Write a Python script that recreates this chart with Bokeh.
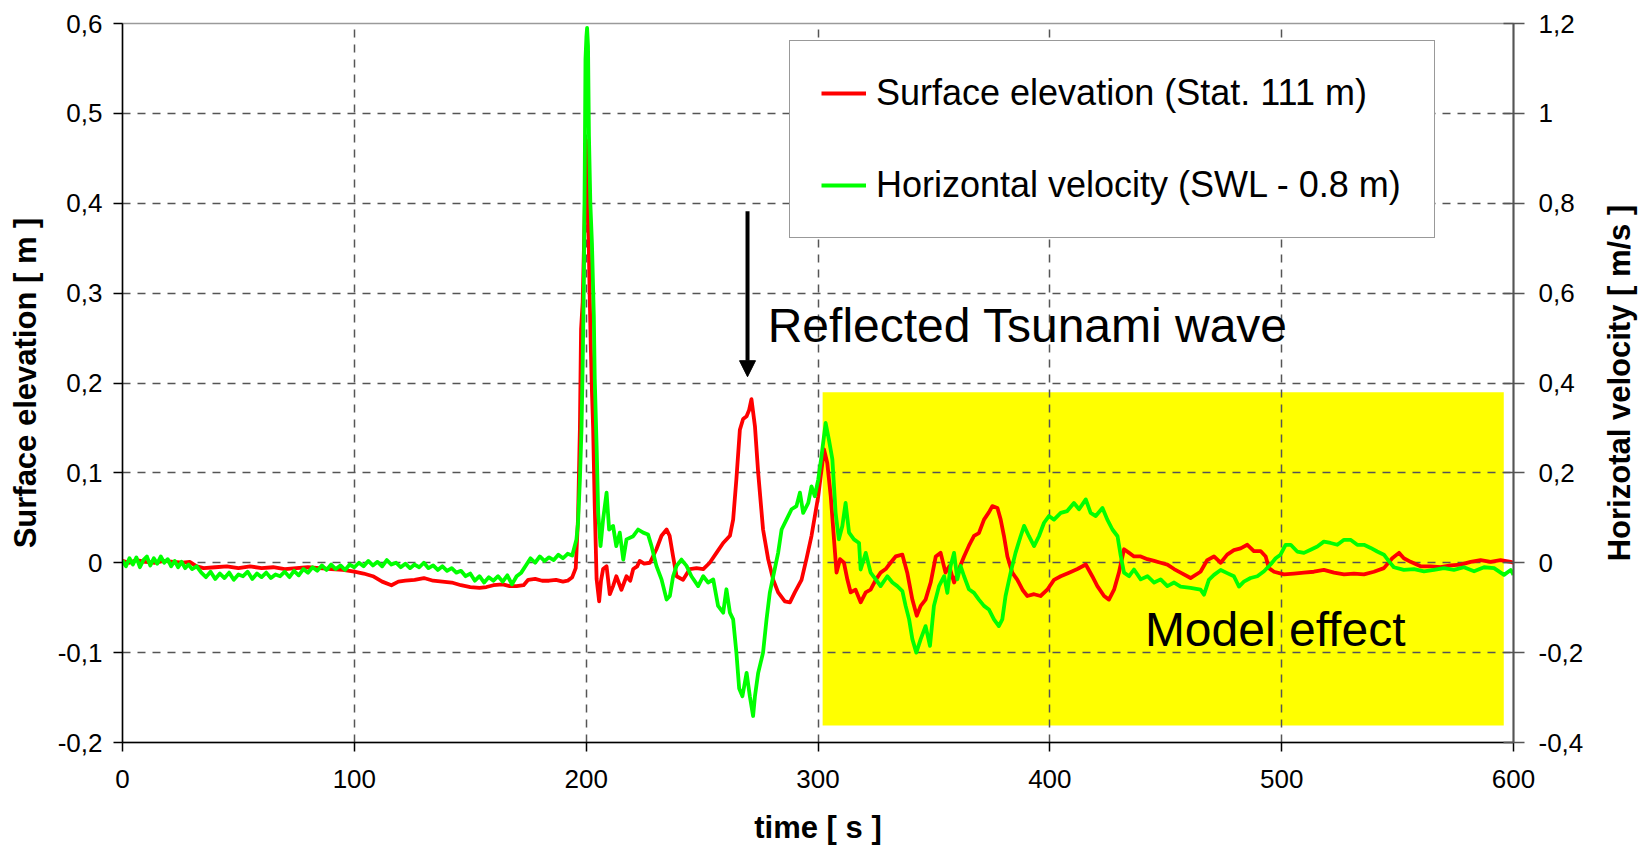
from bokeh.plotting import figure
from bokeh.layouts import row
from bokeh.models import (Range1d, LinearAxis, FixedTicker, CustomJSTickFormatter,
                          Legend, LegendItem, Arrow, NormalHead, Label)
from bokeh.embed import file_html
from bokeh.resources import INLINE

# ---------------- data ----------------
t_elev = [0, 3, 6, 10, 14, 18, 22, 26, 29, 32, 35, 40, 45, 50, 55, 60, 65, 70, 75, 80,
          85, 90, 95, 100, 104, 108, 112, 116, 119, 122, 126, 130, 134, 138, 142, 146, 150, 154, 157, 160,
          164, 167, 170, 173, 175, 178, 181, 184, 187, 190, 192, 194, 195.5, 196.5, 197.3, 197.8, 198.5, 199.3, 200, 200.6,
          201, 201.5, 202, 202.5, 203, 203.7, 204.5, 205.6, 206.4, 207.3, 208.8, 210.2, 211.6, 213, 215.2, 217.4, 219, 220.3, 222, 223.1,
          225, 227.5, 230.3, 232.5, 234.7, 236, 237.5, 239, 241.8, 244.7, 247.6, 250.5, 253.3, 256.2, 259.1, 262, 263.4, 264.8, 266.3, 267.7,
          269.2, 270.3, 271.3, 272.8, 274.2, 276.3, 278.5, 280.7, 282.8, 285.7, 287.9, 290, 292.9, 295, 297.2, 300.1, 302.6, 304, 305.5, 306.9,
          308, 309.5, 311.2, 312.7, 314.1, 316.2, 318.4, 320.6, 322.7, 324.9, 327, 329.2, 331.3, 333.5, 336.4, 338.5, 340.7, 342.6, 344.3, 346.4,
          348.6, 350.8, 352.9, 355, 356.6, 358.7, 360.8, 363, 365.1, 367.3, 369.4, 371.6, 373.7, 375.2, 377.4, 378.8, 380.2, 381.7, 383.8, 386,
          388.2, 390.3, 393.2, 396, 398.9, 401.8, 404.7, 408.3, 411.9, 415.5, 418.3, 420.5, 423.4, 425.5, 427.7, 429.8, 432, 434.2, 436.3, 439.2,
          442.1, 445, 447.8, 450.7, 453.6, 456.4, 460.7, 465, 467.9, 470.8, 473.7, 476.5, 479.4, 482.3, 485.2, 488, 490.9, 493.1, 494.5, 496.7,
          501, 505.3, 509.6, 513.9, 518.2, 522.6, 526.9, 531.2, 535.5, 539.8, 544.1, 547.7, 550.6, 552.7, 555.6, 559.9, 564.2, 568.6, 572.9, 577.2,
          581.5, 585.8, 590.1, 594.4, 598.8, 600]
elevation = [0.002, 0.000, 0.003, 0.001, 0.000, 0.002, 0.001, 0.000, 0.001, -0.004, -0.006, -0.005, -0.004, -0.006, -0.004, -0.006, -0.005, -0.007, -0.006, -0.005,
             -0.006, -0.007, -0.008, -0.010, -0.012, -0.015, -0.021, -0.025, -0.021, -0.020, -0.019, -0.017, -0.020, -0.021, -0.022, -0.025, -0.027, -0.028, -0.027, -0.025,
             -0.024, -0.026, -0.026, -0.025, -0.019, -0.018, -0.020, -0.020, -0.019, -0.021, -0.020, -0.016, -0.006, 0.05, 0.15, 0.26, 0.29, 0.38, 0.47, 0.43,
             0.37, 0.30, 0.24, 0.19, 0.15, 0.063, -0.018, -0.043, -0.020, -0.007, -0.004, -0.035, -0.026, -0.015, -0.030, -0.015, -0.020, -0.007, -0.004, 0.002,
             -0.001, 0.000, 0.015, 0.030, 0.037, 0.030, 0.007, -0.015, -0.019, -0.007, -0.006, -0.007, 0.000, 0.011, 0.022, 0.030, 0.048, 0.093, 0.148, 0.160,
             0.163, 0.170, 0.182, 0.152, 0.100, 0.037, 0.004, -0.019, -0.033, -0.043, -0.044, -0.033, -0.019, 0.004, 0.030, 0.074, 0.126, 0.111, 0.074, 0.026,
             -0.011, 0.004, 0.000, -0.019, -0.033, -0.030, -0.044, -0.033, -0.030, -0.019, -0.011, -0.007, 0.000, 0.007, 0.009, -0.011, -0.041, -0.059, -0.048, -0.041,
             -0.022, 0.007, 0.011, -0.011, -0.004, -0.022, -0.007, 0.007, 0.019, 0.030, 0.033, 0.048, 0.056, 0.063, 0.061, 0.048, 0.030, 0.007, -0.011, -0.019,
             -0.030, -0.037, -0.035, -0.037, -0.030, -0.019, -0.015, -0.011, -0.007, -0.002, -0.015, -0.026, -0.037, -0.041, -0.030, -0.011, 0.015, 0.011, 0.007, 0.007,
             0.004, 0.002, 0.000, -0.002, -0.007, -0.011, -0.017, -0.010, 0.003, 0.007, 0.000, 0.009, 0.014, 0.016, 0.020, 0.013, 0.013, 0.007, -0.006, -0.010,
             -0.013, -0.012, -0.011, -0.010, -0.008, -0.011, -0.013, -0.012, -0.013, -0.010, -0.006, 0.005, 0.011, 0.005, 0.001, -0.004, -0.004, -0.005, -0.003, -0.002,
             0.001, 0.003, 0.001, 0.003, 0.001, 0.000]

t_vel = [0, 1.5, 3, 4.5, 6, 7.5, 9, 10.5, 12, 13.5, 15, 16.5, 18, 19.5, 21, 22.5, 24, 25.5, 27, 28.5,
         30, 32, 34, 36, 38, 40, 42, 44, 46, 48, 50, 52, 54, 56, 58, 60, 62, 64, 66, 68,
         70, 72, 74, 76, 78, 80, 82, 84, 86, 88, 90, 92, 94, 96, 98, 100, 102, 104, 106, 108,
         110, 112, 114, 116, 118, 120, 122, 124, 126, 128, 130, 132, 134, 136, 138, 140, 142, 144, 146, 148,
         150, 152, 154, 156, 158, 160, 162, 164, 166, 168, 170, 172, 174, 176, 178, 180, 182, 184, 186, 188,
         190, 192, 194, 195.8, 196.5, 197.3, 198, 198.5, 199, 199.4, 199.7, 200.1, 200.4, 200.8, 201.2, 201.8, 202.5, 203.3, 203.7, 204.5,
         205.2, 206.2, 207.3, 208.8, 209.9, 211.6, 213, 214.5, 216, 217.4, 220.3, 222.4, 224.6, 226.7, 228.2, 230.3, 232.5, 234.7, 236.1, 237.5,
         239, 241.1, 243.3, 245.4, 248.3, 250.5, 252.6, 254.8, 256.9, 259.1, 260.5, 262, 263.4, 264.8, 266, 267.4, 269.2, 270.6, 272, 272.8,
         274.2, 276.3, 277.8, 279.2, 280.7, 282.8, 284.3, 286.4, 288.6, 290.7, 292.2, 293.6, 295.8, 297.2, 298.6, 300.1, 301.5, 303.3, 304.7, 306.2,
         307.6, 309, 310.5, 311.9, 313.4, 315.5, 317.7, 318.4, 320.6, 322.7, 324.9, 327, 329.9, 332.1, 334.2, 336.4, 337.8, 339.3, 340.7, 342.4,
         344.3, 346.4, 348.3, 350, 352.2, 354.4, 355.8, 357.2, 358.7, 360.1, 361.5, 363, 365.1, 367.3, 369.4, 371.6, 373.7, 375.9, 378, 379.5,
         380.9, 383.1, 385.2, 387.4, 388.9, 391, 393.2, 395.3, 397.5, 399.6, 401.8, 404.7, 407.5, 410.4, 412.6, 415.5, 417.6, 419.8, 422.7, 424.8,
         427, 429.2, 430.6, 432, 434.2, 436.3, 439.2, 442.1, 445, 447.8, 450.7, 453.6, 456.4, 460.7, 465, 466.5, 468.6, 470.8, 473.7, 476.5,
         479.4, 481.6, 483.7, 486.6, 489.5, 492.4, 495.2, 497.4, 499.5, 501.7, 503.9, 506.7, 509.6, 512.5, 515.4, 518.2, 521.1, 524, 526.9, 529.7,
         532.6, 535.5, 538.4, 541.2, 544.1, 546.3, 548.4, 552.7, 557.1, 561.4, 565.7, 570, 574.3, 578.6, 583, 587.3, 591.6, 595.9, 598.8, 600]
velocity = [0.005, -0.008, 0.010, -0.004, 0.012, -0.010, 0.006, 0.014, -0.006, 0.010, -0.002, 0.014, 0.000, 0.008, -0.008, 0.004, -0.010, 0.002, -0.012, -0.004,
            -0.014, -0.008, -0.022, -0.032, -0.020, -0.036, -0.024, -0.034, -0.022, -0.038, -0.026, -0.030, -0.020, -0.036, -0.024, -0.032, -0.022, -0.034, -0.026, -0.030,
            -0.020, -0.032, -0.018, -0.028, -0.014, -0.022, -0.010, -0.018, -0.006, -0.016, -0.004, -0.014, -0.006, -0.016, -0.004, -0.010, 0.000, -0.008, 0.004, -0.006,
            0.002, -0.008, 0.006, -0.004, 0.000, -0.010, -0.002, -0.012, -0.004, -0.010, 0.000, -0.012, -0.006, -0.016, -0.008, -0.018, -0.012, -0.022, -0.018, -0.030,
            -0.024, -0.040, -0.030, -0.044, -0.032, -0.040, -0.030, -0.042, -0.028, -0.048, -0.030, -0.022, -0.006, 0.010, 0.000, 0.014, 0.004, 0.012, 0.006, 0.018,
            0.010, 0.020, 0.016, 0.052, 0.089, 0.185, 0.30, 0.44, 0.62, 0.88, 1.12, 1.17, 1.19, 1.15, 0.95, 0.80, 0.71, 0.55, 0.41, 0.26,
            0.11, 0.037, 0.096, 0.156, 0.074, 0.082, 0.037, 0.067, 0.007, 0.052, 0.059, 0.074, 0.067, 0.063, 0.037, -0.007, -0.037, -0.082, -0.074, -0.030,
            -0.007, 0.007, -0.007, -0.030, -0.052, -0.030, -0.044, -0.037, -0.096, -0.111, -0.059, -0.111, -0.126, -0.200, -0.280, -0.297, -0.245, -0.297, -0.341, -0.297,
            -0.245, -0.200, -0.126, -0.067, -0.030, 0.022, 0.074, 0.096, 0.119, 0.126, 0.156, 0.111, 0.133, 0.170, 0.148, 0.185, 0.237, 0.311, 0.274, 0.230,
            0.111, 0.052, 0.082, 0.133, 0.067, 0.052, 0.044, -0.015, 0.022, -0.022, -0.037, -0.052, -0.030, -0.044, -0.052, -0.063, -0.096, -0.126, -0.170, -0.200,
            -0.170, -0.141, -0.185, -0.096, -0.052, -0.030, -0.067, -0.007, 0.022, -0.037, -0.007, -0.030, -0.059, -0.067, -0.082, -0.096, -0.104, -0.126, -0.141, -0.126,
            -0.074, -0.022, 0.022, 0.059, 0.082, 0.059, 0.037, 0.059, 0.089, 0.104, 0.096, 0.111, 0.115, 0.133, 0.119, 0.141, 0.111, 0.104, 0.122, 0.096,
            0.074, 0.059, 0.015, -0.022, -0.030, -0.015, -0.037, -0.030, -0.044, -0.037, -0.052, -0.044, -0.053, -0.056, -0.060, -0.071, -0.038, -0.027, -0.016, -0.023,
            -0.030, -0.053, -0.042, -0.034, -0.030, -0.019, -0.004, 0.010, 0.018, 0.040, 0.040, 0.025, 0.022, 0.029, 0.036, 0.047, 0.044, 0.040, 0.051, 0.051,
            0.040, 0.040, 0.033, 0.025, 0.018, 0.003, -0.010, -0.016, -0.014, -0.019, -0.016, -0.012, -0.016, -0.010, -0.019, -0.010, -0.012, -0.027, -0.016, -0.027]

x_ticks = [0, 100, 200, 300, 400, 500, 600]
elev_ticks = [-0.2, -0.1, 0, 0.1, 0.2, 0.3, 0.4, 0.5, 0.6]
vel_ticks = [-0.4, -0.2, 0, 0.2, 0.4, 0.6, 0.8, 1.0, 1.2]
series_labels = ["Surface elevation (Stat. 111 m)", "Horizontal velocity (SWL - 0.8 m)"]

model_zone_t = [302.0, 595.8]
model_zone_elev = [-0.181, 0.1896]
arrow_t = 269.6
arrow_elev = [0.391, 0.207]
note_reflected = (278.3, 0.264, "Reflected Tsunami wave")
note_model = (441.0, -0.074, "Model effect")
right_title = "Horizotal velocity [ m/s ]"

FONT = "Liberation Sans"
MAIN_W = 1595
SIDE_W = 1638 - MAIN_W

p = figure(width=MAIN_W, height=850, output_backend="svg", toolbar_location=None,
           x_range=Range1d(0, 600), y_range=Range1d(-0.2, 0.6),
           min_border_left=122, min_border_right=MAIN_W - 1513, min_border_top=23, min_border_bottom=108,
           background_fill_color="white", border_fill_color="white")
p.extra_y_ranges = {"vel": Range1d(vel_ticks[0], vel_ticks[-1])}
p.outline_line_color = "#9a9a9a"
p.outline_line_width = 1.5

fmt = CustomJSTickFormatter(code="""
const r = Math.round(tick*10)/10;
if (r === 0) return "0";
return String(r).replace(".", ",");
""")

# axes
xa = p.xaxis[0]
xa.ticker = FixedTicker(ticks=x_ticks)
xa.axis_label = "time [ s ]"
ya = p.yaxis[0]
ya.ticker = FixedTicker(ticks=elev_ticks)
ya.formatter = fmt
ya.axis_label = "Surface elevation [ m ]"

ra = LinearAxis(y_range_name="vel", ticker=FixedTicker(ticks=vel_ticks), formatter=fmt)
p.add_layout(ra, "right")

for ax in (xa, ya, ra):
    ax.major_label_text_font = FONT
    ax.major_label_text_font_size = "26px"
    ax.major_label_text_color = "black"
    ax.axis_label_text_font = FONT
    ax.axis_label_text_font_size = "31px"
    ax.axis_label_text_font_style = "bold"
    ax.axis_label_text_color = "black"
    ax.minor_tick_line_color = None
    ax.major_tick_line_width = 1.5
    ax.axis_line_width = 1.5
    ax.major_tick_in = 0
    ax.major_tick_out = 9

xa.major_label_standoff = 18
xa.axis_label_standoff = 19
ya.major_label_standoff = 11
ya.axis_label_standoff = 12
ra.major_tick_in = 10
ra.major_tick_out = 11
ra.major_label_standoff = 14
ra.axis_line_color = "#555555"
ra.major_tick_line_color = "#555555"
ra.axis_line_width = 2

# grid
p.xgrid.ticker = FixedTicker(ticks=x_ticks[1:-1])
p.ygrid.ticker = FixedTicker(ticks=elev_ticks[1:-1])
for g in (p.xgrid, p.ygrid):
    g.grid_line_color = "#555555"
    g.grid_line_width = 1.5
    g.grid_line_dash = "8 7"

# model-effect zone (drawn under the grid)
p.quad(left=[model_zone_t[0]], right=[model_zone_t[1]], bottom=[model_zone_elev[0]], top=[model_zone_elev[1]],
       fill_color="#FFFF00", line_color=None, level="image")

r_elev = p.line(t_elev, elevation, line_color="#FF0000", line_width=3.8, line_join="round")
r_vel = p.line(t_vel, velocity, line_color="#00FF00", line_width=3.8, line_join="round", y_range_name="vel")

legend = Legend(items=[LegendItem(label=series_labels[0], renderers=[r_elev]),
                       LegendItem(label=series_labels[1], renderers=[r_vel])],
                location=(667, 504), orientation="vertical",
                label_text_font=FONT, label_text_font_size="36px", label_text_color="black",
                glyph_width=45, glyph_height=42, label_height=42, label_width=527,
                padding=31, spacing=50, label_standoff=10, margin=0,
                border_line_color="#333333", border_line_width=1.5,
                background_fill_color="white", background_fill_alpha=1.0)
p.add_layout(legend, "center")

p.add_layout(Arrow(end=NormalHead(size=16, fill_color="black", line_color="black"),
                   x_start=arrow_t, y_start=arrow_elev[0], x_end=arrow_t, y_end=arrow_elev[1],
                   line_color="black", line_width=4))

for (tx, ty, txt) in (note_reflected, note_model):
    p.add_layout(Label(x=tx, y=ty, text=txt, text_font=FONT, text_font_size="48px",
                       text_color="black", text_baseline="alphabetic", text_align="left"))

# narrow side panel carrying the right-hand axis title (reads bottom-to-top)
q = figure(width=SIDE_W, height=850, output_backend="svg", toolbar_location=None,
           x_range=Range1d(0, 1), y_range=Range1d(0, 1),
           min_border_left=0, min_border_right=0, min_border_top=23, min_border_bottom=108,
           background_fill_color="white", border_fill_color="white", outline_line_color=None)
q.xaxis.visible = False
q.yaxis.visible = False
q.xgrid.visible = False
q.ygrid.visible = False
q.add_layout(Label(x=0.55, y=0.5, text=right_title, text_font=FONT, text_font_size="31px",
                   text_font_style="bold", text_color="black", angle=90, angle_units="deg",
                   text_align="center", text_baseline="middle"))

layout = row(p, q, spacing=0)
open("out.html", "w").write(file_html(layout, INLINE))
